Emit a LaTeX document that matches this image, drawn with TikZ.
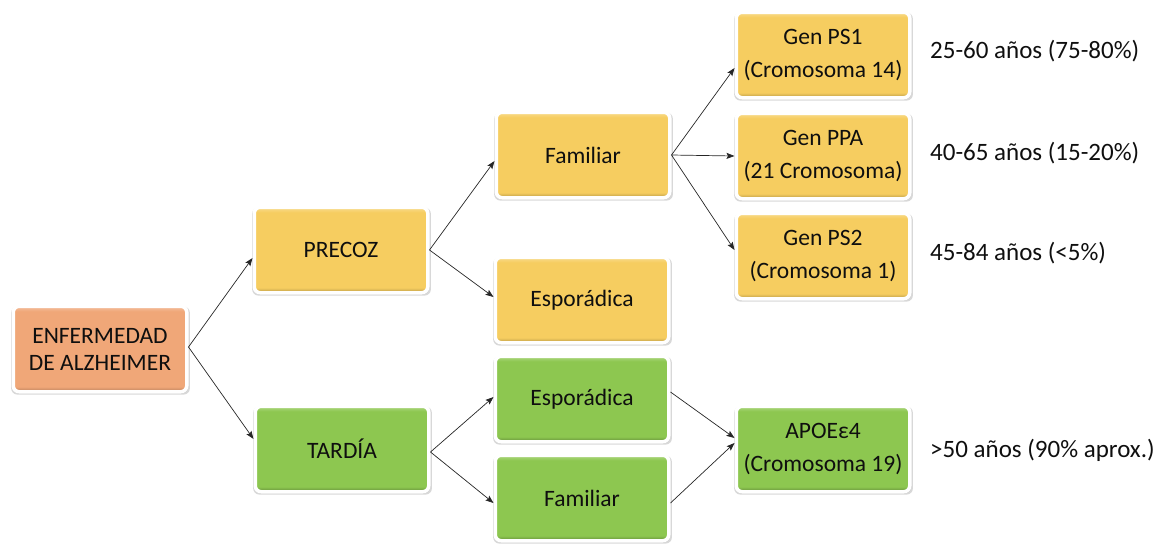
\documentclass[tikz,border=0pt]{standalone}
\usepackage{fontspec}
\setmainfont{Carlito}
\usetikzlibrary{shadows,arrows.meta}

\definecolor{orangebase}{RGB}{240,167,120}
\definecolor{yellowbase}{RGB}{246,205,96}
\definecolor{greenbase}{RGB}{141,199,80}
\definecolor{inktext}{RGB}{15,15,15}

% bevelled fills: darker rim at the bottom, lighter rim at the top
\pgfdeclareverticalshading{orangebevel}{100bp}{%
  color(0bp)=(orangebase!80!black); color(25.5bp)=(orangebase!80!black);
  color(28bp)=(orangebase); color(72bp)=(orangebase);
  color(74.5bp)=(orangebase!75!white); color(100bp)=(orangebase!75!white)}
\pgfdeclareverticalshading{yellowbevel}{100bp}{%
  color(0bp)=(yellowbase!78!black); color(25.5bp)=(yellowbase!78!black);
  color(28bp)=(yellowbase); color(72bp)=(yellowbase);
  color(74.5bp)=(yellowbase!75!white); color(100bp)=(yellowbase!75!white)}
\pgfdeclareverticalshading{greenbevel}{100bp}{%
  color(0bp)=(greenbase!75!black); color(25.5bp)=(greenbase!75!black);
  color(28bp)=(greenbase); color(72bp)=(greenbase);
  color(74.5bp)=(greenbase!75!white); color(100bp)=(greenbase!75!white)}

\tikzset{
  card/.style={rounded corners=6pt, draw=white, line width=3.5pt,
    minimum width=173.5pt, minimum height=85.5pt, inner sep=2pt,
    align=center, text=inktext, font=\fontsize{23.5}{27}\selectfont,
    drop shadow={shadow xshift=0.5pt, shadow yshift=-1.5pt,
      shadow scale=1.03, opacity=0.22, fill=black!70},
    drop shadow={shadow xshift=0.3pt, shadow yshift=-1pt,
      shadow scale=1.012, opacity=0.25, fill=black!60}},
  genecard/.style={card, font=\fontsize{23.5}{33}\selectfont},
  orangecard/.style={shading=orangebevel},
  yellowcard/.style={shading=yellowbevel},
  greencard/.style={shading=greenbevel},
  agelabel/.style={anchor=base west, text=inktext,
    font=\fontsize{25}{30}\selectfont, inner sep=0pt},
  link/.style={-{Stealth[length=8pt,width=6pt,inset=1.5pt]},
    line width=0.7pt, draw=black!85}
}

\begin{document}
\begin{tikzpicture}[x=1pt,y=-1pt]
  \useasboundingbox (0,0) rectangle (1165,544);

  % root
  \node[card, orangecard] (enf) at (100,349) {ENFERMEDAD\\DE ALZHEIMER};

  % onset classes
  \node[card, yellowcard] (precoz) at (341,250) {PRECOZ};
  \node[card, greencard]  (tardia) at (342,449) {TARDÍA};

  % early onset branches
  \node[card, yellowcard] (famA) at (583,155) {Familiar};
  \node[card, yellowcard] (espA) at (582,300) {Esporádica};

  % late onset branches
  \node[card, greencard] (espB) at (582,399) {Esporádica};
  \node[card, greencard] (famB) at (582,498) {Familiar};

  % genes
  \node[genecard, yellowcard] (ps1) at (823,55)  {Gen PS1\\(Cromosoma 14)};
  \node[genecard, yellowcard] (ppa) at (823,156) {Gen PPA\\(21 Cromosoma)};
  \node[genecard, yellowcard] (ps2) at (823,256) {Gen PS2\\(Cromosoma 1)};
  \node[genecard, greencard] (apoe) at (823,449) {APOEε4\\(Cromosoma 19)};

  % ages and shares
  \node[agelabel] (agePS1)  at (930,58)  {25-60 años (75-80\%)};
  \node[agelabel] (agePPA)  at (930,160) {40-65 años (15-20\%)};
  \node[agelabel] (agePS2)  at (930,260) {45-84 años (<5\%)};
  \node[agelabel] (ageAPOE) at (930,457) {>50 años (90\% aprox.)};

  % connectors
  \draw[link] ([yshift=2pt]enf.east) -- ([yshift=-8pt]precoz.west);
  \draw[link] ([yshift=2pt]enf.east) -- ([yshift=10pt]tardia.west);

  \draw[link] (precoz.east) -- ([yshift=-6pt]famA.west);
  \draw[link] (precoz.east) -- ([yshift=3pt]espA.west);

  \draw[link] ([yshift=-3pt]tardia.east) -- ([yshift=2pt]espB.west);
  \draw[link] ([yshift=-3pt]tardia.east) -- ([yshift=-5pt]famB.west);

  \draw[link] (famA.east) -- ([yshift=-13pt]ps1.west);
  \draw[link] (famA.east) -- (ppa.west);
  \draw[link] (famA.east) -- ([yshift=6pt]ps2.west);

  \draw[link] ([yshift=7pt]espB.east) -- ([yshift=11pt]apoe.west);
  \draw[link] ([yshift=-5pt]famB.east) -- ([yshift=6pt]apoe.west);
\end{tikzpicture}
\end{document}
